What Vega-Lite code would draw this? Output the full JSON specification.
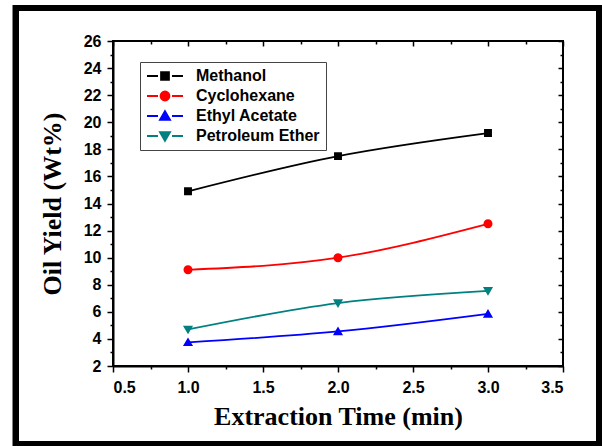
{
  "$schema": "https://vega.github.io/schema/vega-lite/v6.json",
  "width": 450,
  "height": 325,
  "autosize": {"type": "none"},
  "padding": {"left": 113, "top": 41, "right": 39, "bottom": 80},
  "background": "white",
  "config": {
    "view": {"stroke": "black", "strokeWidth": 2},
    "axis": {
      "domainColor": "black",
      "domainWidth": 2,
      "tickColor": "black",
      "tickWidth": 1.5,
      "labelFont": "Liberation Sans",
      "labelFontWeight": "bold",
      "labelFontSize": 16,
      "labelColor": "black",
      "titleFont": "Liberation Serif",
      "titleFontWeight": "bold",
      "titleFontSize": 26,
      "titleColor": "black",
      "grid": false,
      "labelOverlap": false
    }
  },
  "data": {
    "values": [
      {"solvent": "Methanol", "time": 1, "yield": 14.9},
      {"solvent": "Methanol", "time": 2, "yield": 17.5},
      {"solvent": "Methanol", "time": 3, "yield": 19.2},
      {"solvent": "Cyclohexane", "time": 1, "yield": 9.1},
      {"solvent": "Cyclohexane", "time": 2, "yield": 10.0},
      {"solvent": "Cyclohexane", "time": 3, "yield": 12.5},
      {"solvent": "Ethyl Acetate", "time": 1, "yield": 3.75},
      {"solvent": "Ethyl Acetate", "time": 2, "yield": 4.55},
      {"solvent": "Ethyl Acetate", "time": 3, "yield": 5.85},
      {"solvent": "Petroleum Ether", "time": 1, "yield": 4.7},
      {"solvent": "Petroleum Ether", "time": 2, "yield": 6.65},
      {"solvent": "Petroleum Ether", "time": 3, "yield": 7.55}
    ]
  },
  "resolve": {"axis": {"x": "independent", "y": "independent"}},
  "layer": [
    {
      "mark": {"type": "line", "interpolate": "natural", "strokeWidth": 1.8},
      "encoding": {
        "x": {
          "field": "time", "type": "quantitative",
          "scale": {"domain": [0.5, 3.5], "nice": false, "zero": false},
          "axis": {
            "orient": "bottom",
            "title": "Extraction Time (min)",
            "values": [0.5, 0.75, 1, 1.25, 1.5, 1.75, 2, 2.25, 2.5, 2.75, 3, 3.25, 3.5],
            "labelExpr": "(datum.value*2)%1===0 ? format(datum.value,'.1f') : ''",
            "tickSize": {"condition": {"test": "(datum.value*2)%1===0", "value": 6}, "value": 3},
            "labelPadding": 7,
            "titlePadding": 8
          }
        },
        "y": {
          "field": "yield", "type": "quantitative",
          "scale": {"domain": [2, 26], "nice": false, "zero": false},
          "axis": {
            "orient": "left",
            "title": "Oil Yield (Wt%)",
            "values": [2,3,4,5,6,7,8,9,10,11,12,13,14,15,16,17,18,19,20,21,22,23,24,25,26],
            "labelExpr": "datum.value%2===0 ? datum.label : ''",
            "tickSize": {"condition": {"test": "datum.value%2===0", "value": 6}, "value": 3},
            "labelPadding": 6,
            "titlePadding": 18
          }
        },
        "color": {
          "field": "solvent", "type": "nominal",
          "scale": {
            "domain": ["Methanol", "Cyclohexane", "Ethyl Acetate", "Petroleum Ether"],
            "range": ["#000000", "#ff0000", "#0000ff", "#008080"]
          }
        },
        "detail": {"field": "solvent"}
      }
    },
    {
      "mark": {"type": "point", "filled": true, "size": 1296, "opacity": 1, "strokeWidth": 0},
      "encoding": {
        "x": {"field": "time", "type": "quantitative", "scale": {"domain": [0.5, 3.5], "nice": false, "zero": false}, "axis": null},
        "y": {"field": "yield", "type": "quantitative", "scale": {"domain": [2, 26], "nice": false, "zero": false}, "axis": null},
        "color": {
          "field": "solvent", "type": "nominal",
          "scale": {
            "domain": ["Methanol", "Cyclohexane", "Ethyl Acetate", "Petroleum Ether"],
            "range": ["#000000", "#ff0000", "#0000ff", "#008080"]
          },
          "legend": {
            "title": null,
            "orient": "none",
            "legendX": 27,
            "legendY": 21,
            "fillColor": "white",
            "strokeColor": "#444444",
            "padding": 6,
            "labelFont": "Liberation Sans",
            "labelFontWeight": "bold",
            "labelFontSize": 16,
            "labelColor": "black",
            "labelOffset": 12,
            "symbolSize": 1296,
            "clipHeight": 16,
            "rowPadding": 4,
            "symbolStrokeWidth": 1.8,
            "symbolOpacity": 1,
            "encode": {"symbols": {"update": {"stroke": {"scale": "color", "field": "value"}, "strokeWidth": {"value": 1.8}}}}
          }
        },
        "shape": {
          "field": "solvent", "type": "nominal",
          "scale": {
            "domain": ["Methanol", "Cyclohexane", "Ethyl Acetate", "Petroleum Ether"],
            "range": [
              "M-1,0H-0.39M0.39,0H1M-0.22,-0.22H0.22V0.22H-0.22Z",
              "M-1,0H-0.39M0.39,0H1M0.25,0A0.25,0.25,0,1,1,-0.25,0A0.25,0.25,0,1,1,0.25,0Z",
              "M-1,0H-0.39M0.39,0H1M0,-0.27L0.28,0.21L-0.28,0.21Z",
              "M-1,0H-0.39M0.39,0H1M0,0.27L0.28,-0.21L-0.28,-0.21Z"
            ]
          },
          "legend": {
            "title": null,
            "orient": "none",
            "legendX": 27,
            "legendY": 21,
            "fillColor": "white",
            "strokeColor": "#444444",
            "padding": 6,
            "labelFont": "Liberation Sans",
            "labelFontWeight": "bold",
            "labelFontSize": 16,
            "labelColor": "black",
            "labelOffset": 12,
            "symbolSize": 1296,
            "clipHeight": 16,
            "rowPadding": 4,
            "symbolStrokeWidth": 1.8,
            "symbolOpacity": 1,
            "encode": {"symbols": {"update": {"stroke": {"scale": "color", "field": "value"}, "strokeWidth": {"value": 1.8}}}}
          }
        }
      }
    },
    {
      "mark": {"type": "rect", "fill": null, "stroke": "black", "strokeWidth": 6, "clip": false},
      "encoding": {
        "x": {
          "datum": -0.147, "type": "quantitative",
          "scale": {"domain": [0.5, 3.5], "nice": false, "zero": false},
          "axis": {
            "orient": "top", "labels": false, "title": null, "domain": false,
            "values": [0.5, 0.75, 1, 1.25, 1.5, 1.75, 2, 2.25, 2.5, 2.75, 3, 3.25, 3.5],
            "tickSize": {"condition": {"test": "(datum.value*2)%1===0", "value": -5}, "value": -3}
          }
        },
        "x2": {"datum": 3.743},
        "y": {
          "datum": 28.44, "type": "quantitative",
          "scale": {"domain": [2, 26], "nice": false, "zero": false},
          "axis": {
            "orient": "right", "labels": false, "title": null, "domain": false,
            "values": [2,3,4,5,6,7,8,9,10,11,12,13,14,15,16,17,18,19,20,21,22,23,24,25,26],
            "tickSize": {"condition": {"test": "datum.value%2===0", "value": -5}, "value": -3}
          }
        },
        "y2": {"datum": -3.76}
      }
    }
  ]
}
